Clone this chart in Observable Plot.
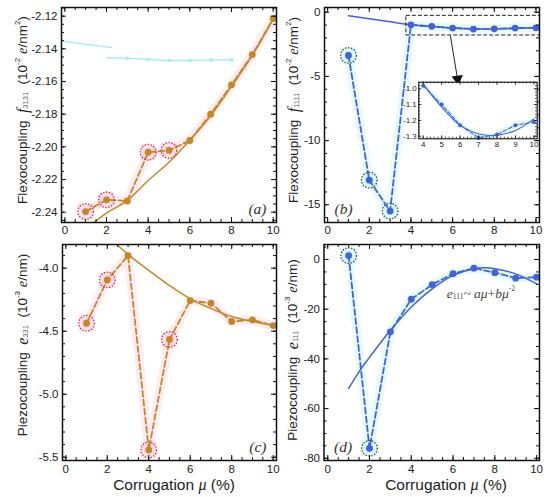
<!DOCTYPE html>
<html><head><meta charset="utf-8">
<script src="https://cdn.jsdelivr.net/npm/d3@7"></script>
<script src="https://cdn.jsdelivr.net/npm/@observablehq/plot@0.6"></script>
<style>
body{margin:0;background:#fff;}
#fig{position:relative;width:550px;height:497px;overflow:hidden;background:#fff;}
#fig svg{position:absolute;}
</style></head><body><div id="fig"></div>
<script>
// ---------- data ----------
const mu = [1, 2, 3, 4, 5, 6, 7, 8, 9, 10];

const f3131 = [-2.2396, -2.2324, -2.2331, -2.2033, -2.2022, -2.1961, -2.1800, -2.1620, -2.1435, -2.1216];
const f3131FitMu = [1.4, 2, 3, 4, 5, 6, 7, 8, 9, 10];
const f3131Fit = [-2.2463, -2.2405, -2.2328, -2.2206, -2.2094, -2.196, -2.181, -2.163, -2.144, -2.122];
const f3131Marked = [1, 2, 4, 5];
const ghostMuA = [-0.15, 1, 2.25];
const ghostA = [-2.1352, -2.1372, -2.1392];
const ghostMuB = [2.0, 3, 4, 5, 6, 7, 8];
const ghostB = [-2.1455, -2.1458, -2.1466, -2.1471, -2.1471, -2.1468, -2.1467];

const f1111 = [-3.37, -13.08, -15.49, -0.98, -1.10, -1.23, -1.31, -1.29, -1.23, -1.21];
const f1111FitMu = [1, 2, 3, 4, 5, 6, 7, 7.7, 8, 9, 10];
const f1111Fit = [-0.27, -0.50, -0.74, -0.97, -1.115, -1.23, -1.285, -1.297, -1.295, -1.264, -1.19];
const f1111Marked = [1, 2, 3];
const zoomBox = [{x1: 3.78, x2: 10.3, y1: -0.28, y2: -1.81}];
const zoomArrow = [{x1: 5.89, y1: -1.81, x2: 6.22, y2: -5.05}];
const arrowHead = [{x: 6.24, y: -5.2}];

const e331 = [-4.437, -4.093, -3.900, -5.442, -4.566, -4.257, -4.278, -4.423, -4.410, -4.455];
const e331FitMu = [2.45, 3, 4, 5, 6, 7, 8, 9, 10];
const e331Fit = [-3.812, -3.89, -4.018, -4.138, -4.243, -4.32, -4.384, -4.423, -4.455];
const e331Marked = [1, 2, 4, 5];

const e111 = [1.6, -76, -29.1, -16, -10.1, -5.7, -3.5, -5.3, -7.5, -7.1];
const e111FitMu = [1, 1.6, 2, 3, 4, 5, 6, 7, 7.5, 8, 9, 10];
const e111Fit = [-51.9, -43.9, -39.4, -28.5, -19.1, -11.8, -6.4, -3.7, -3.3, -3.7, -5.8, -9.8];
const e111Marked = [1, 2];
const formulaPos = {x: 5.72, y: -13.7};

const xLabels = [0, 2, 4, 6, 8, 10];
const yLabelsA = [-2.24, -2.22, -2.20, -2.18, -2.16, -2.14, -2.12];
const yLabelsB = [-15, -10, -5, 0];
const yLabelsC = [-5.5, -5.0, -4.5, -4.0];
const yLabelsD = [-80, -60, -40, -20, 0];
const insetXLabels = [4, 5, 6, 7, 8, 9, 10];
const insetYLabels = [-1.3, -1.2, -1.1, -1.0];

const ORANGE = "#c8871f", BLUE = "#3e63e0", PINK = "#f7b8da", CYAN = "#a9eef7";
const SANS = "Arial, 'Liberation Sans', sans-serif", SERIF = "'Liberation Serif', 'DejaVu Serif', serif";

const steps = (a, b, s) => d3.range(Math.round((b - a) / s) + 1).map(i => +(a + i * s).toFixed(6));

function tickMarks(xMaj, xMin, yMaj, yMin, iw, ih, lMaj, lMin, sw) {
  const st = {stroke: "#111", strokeWidth: sw};
  return [
    Plot.tickX(xMin, {x: d => d, insetTop: ih - lMin, ...st}),
    Plot.tickX(xMin, {x: d => d, insetBottom: ih - lMin, ...st}),
    Plot.tickX(xMaj, {x: d => d, insetTop: ih - lMaj, ...st}),
    Plot.tickX(xMaj, {x: d => d, insetBottom: ih - lMaj, ...st}),
    Plot.tickY(yMin, {y: d => d, insetRight: iw - lMin, ...st}),
    Plot.tickY(yMin, {y: d => d, insetLeft: iw - lMin, ...st}),
    Plot.tickY(yMaj, {y: d => d, insetRight: iw - lMaj, ...st}),
    Plot.tickY(yMaj, {y: d => d, insetLeft: iw - lMaj, ...st})
  ];
}

function seriesMarks(ys, fx, fy, marked, color, halo, ring) {
  const pts = mu.map((x, i) => ({x, y: ys[i]}));
  const fit = fx.map((x, i) => ({x, y: fy[i]}));
  const m = pts.filter(d => marked.includes(d.x));
  return [
    Plot.line(pts, {x: "x", y: "y", stroke: halo, strokeWidth: 9, strokeOpacity: 0.28}),
    Plot.dot(m, {x: "x", y: "y", r: 9, fill: halo, fillOpacity: 0.4, symbol: "square"}),
    Plot.line(fit, {x: "x", y: "y", stroke: color, strokeWidth: 1.5, curve: "catmull-rom", clip: true}),
    Plot.line(pts, {x: "x", y: "y", stroke: color, strokeWidth: 1.8, strokeDasharray: "6,3"}),
    Plot.dot(pts, {x: "x", y: "y", r: 3.4, fill: color}),
    Plot.dot(m, {x: "x", y: "y", r: 7.8, stroke: ring, strokeWidth: 1.3, strokeDasharray: "1.4,1.6"})
  ];
}

function panel(c) {
  const iw = c.width - c.ml - c.mr, ih = c.height - c.mt - c.mb;
  const plot = Plot.plot({
    width: c.width, height: c.height,
    marginLeft: c.ml, marginRight: c.mr, marginTop: c.mt, marginBottom: c.mb,
    x: {domain: c.xDomain}, y: {domain: c.yDomain},
    style: {background: "transparent", fontFamily: SANS, fontSize: c.fontSize || "11.5px", color: "#222", overflow: "visible"},
    marks: [
      ...(c.under || []),
      ...c.marks,
      ...tickMarks(c.xMaj, c.xMin, c.yMaj, c.yMin, iw, ih, c.lMaj || 5, c.lMin || 3, c.tsw || 1),
      Plot.frame({stroke: "#111", strokeWidth: c.fsw || 1.5}),
      Plot.axisX(c.xMaj, {anchor: "bottom", tickSize: 0, tickPadding: c.xPad ?? 4, tickFormat: d => String(d), label: null}),
      Plot.axisY(c.yMaj, {anchor: "left", tickSize: 0, tickPadding: c.yPad ?? 4, tickFormat: c.yFormat, label: null})
    ]
  });
  plot.style.position = "absolute";
  plot.style.left = c.left + "px";
  plot.style.top = c.top + "px";
  document.getElementById("fig").appendChild(plot);
  return plot;
}

function richText(svg, attrs, parts) {
  const t = d3.select(svg).append("text").attr("fill", "#222").attr("font-family", SANS)
    .style("white-space", "pre");
  for (const k in attrs) t.attr(k, attrs[k]);
  for (const p of parts) {
    const s = t.append("tspan").text(p.t);
    if (p.it) s.attr("font-family", SERIF).attr("font-style", "italic");
    if (p.size) s.attr("font-size", p.size);
    if (p.dy) s.attr("dy", p.dy);
    if (p.fill) s.attr("fill", p.fill);
  }
  return t;
}

function yTitle(svg, x, y, parts) {
  richText(svg, {transform: `translate(${x},${y}) rotate(-90)`, "text-anchor": "middle",
    "dominant-baseline": "central", "font-size": 13.5}, parts);
}
function xTitle(svg, x, y) {
  richText(svg, {x, y, "text-anchor": "middle", "font-size": 15.5},
    [{t: "Corrugation "}, {t: "μ", it: 1, size: 16}, {t: " (%)"}]);
}
const panelLabel = (s, anchor, dx) => Plot.text([s], {frameAnchor: anchor, dx, dy: -9, fontFamily: SERIF, fontStyle: "italic", fontSize: 15.5, fill: "#333", textAnchor: anchor.endsWith("right") ? "end" : "start"});

const xMin = steps(0, 10, 0.5);

// ---------- (a) ----------
const pa = panel({
  left: 0, top: 0, width: 280, height: 240, ml: 61, mr: 4, mt: 7, mb: 18,
  xDomain: [-0.16, 10.16], yDomain: [-2.2463, -2.1147],
  xMaj: xLabels, xMin, yMaj: yLabelsA, yMin: steps(-2.245, -2.115, 0.005),
  yFormat: d => d.toFixed(2), xPad: 3,
  under: [
    Plot.line(ghostMuA.map((x, i) => ({x, y: ghostA[i]})), {x: "x", y: "y", stroke: CYAN, strokeWidth: 1.5, clip: true}),
    Plot.line(ghostMuB.map((x, i) => ({x, y: ghostB[i]})), {x: "x", y: "y", stroke: CYAN, strokeWidth: 1.5}),
    Plot.dot(ghostMuB.slice(1).map((x, i) => ({x, y: ghostB[i + 1]})), {x: "x", y: "y", r: 2, fill: CYAN})
  ],
  marks: [...seriesMarks(f3131, f3131FitMu, f3131Fit, f3131Marked, ORANGE, PINK, "#d42a3a"), panelLabel("(a)", "bottom-right", -10)]
});
yTitle(pa, 22, 110, [
  {t: "Flexocoupling  "}, {t: "f", it: 1, size: 16}, {t: "3131", size: 7.5, dy: 3, fill: "#666"},
  {t: "  (10", dy: -3}, {t: "-2", size: 8, dy: -5}, {t: " ", dy: 5}, {t: "e", it: 1, size: 14.5},
  {t: "/nm"}, {t: "2", size: 8, dy: -5}, {t: ")", dy: 5}
]);

// ---------- (b) ----------
const pb = panel({
  left: 280, top: 0, width: 270, height: 240, ml: 44, mr: 11, mt: 7, mb: 18,
  xDomain: [-0.15, 10.17], yDomain: [-16.38, 0.37],
  xMaj: xLabels, xMin, yMaj: yLabelsB, yMin: steps(-16, 0, 1),
  yFormat: d => String(d), xPad: 3,
  marks: [
    ...seriesMarks(f1111, f1111FitMu, f1111Fit, f1111Marked, BLUE, CYAN, "#3a4a10"),
    Plot.rect(zoomBox, {x1: "x1", x2: "x2", y1: "y1", y2: "y2", fill: "none", stroke: "#222", strokeWidth: 1, strokeDasharray: "4,2", clip: true}),
    Plot.link(zoomArrow, {x1: "x1", y1: "y1", x2: "x2", y2: "y2", stroke: "#222", strokeWidth: 1}),
    Plot.dot(arrowHead, {x: "x", y: "y", symbol: "triangle", r: 4.2, fill: "#111", rotate: 172}),
    panelLabel("(b)", "bottom-left", 10)
  ]
});
yTitle(pb, 13, 110, [
  {t: "Flexocoupling  "}, {t: "f", it: 1, size: 16}, {t: "1111", size: 7.5, dy: 3, fill: "#666"},
  {t: "  (10", dy: -3}, {t: "-2", size: 8, dy: -5}, {t: " ", dy: 5}, {t: "e", it: 1, size: 14.5},
  {t: "/nm"}, {t: "2", size: 8, dy: -5}, {t: ")", dy: 5}
]);

// ---------- inset ----------
const insetPts = mu.map((x, i) => ({x, y: f1111[i]})).filter(d => d.x >= 4);
const insetFit = f1111FitMu.map((x, i) => ({x, y: f1111Fit[i]})).filter(d => d.x >= 4);
const pin = panel({
  left: 398, top: 76, width: 142, height: 78, ml: 20.3, mr: 3.3, mt: 5.7, mb: 15.7,
  xDomain: [3.76, 10.18], yDomain: [-1.3165, -0.958],
  xMaj: insetXLabels, xMin: steps(4, 10, 0.2), yMaj: insetYLabels, yMin: steps(-1.3, -0.96, 0.02),
  yFormat: d => d.toFixed(1), fontSize: "8px", lMaj: 3, lMin: 1.6, tsw: 0.8, fsw: 1.1, xPad: 3, yPad: 2,
  under: [Plot.frame({fill: "white", stroke: "none"})],
  marks: [
    Plot.line(insetPts, {x: "x", y: "y", stroke: CYAN, strokeWidth: 6, strokeOpacity: 0.35}),
    Plot.line(insetFit, {x: "x", y: "y", stroke: BLUE, strokeWidth: 1.1, curve: "catmull-rom", clip: true}),
    Plot.line(insetPts, {x: "x", y: "y", stroke: BLUE, strokeWidth: 1.1, strokeDasharray: "4,2"}),
    Plot.dot(insetPts, {x: "x", y: "y", r: 2, fill: BLUE})
  ]
});

// ---------- (c) ----------
const pc = panel({
  left: 0, top: 240, width: 280, height: 257, ml: 62, mr: 4, mt: 4, mb: 37,
  xDomain: [-0.16, 10.16], yDomain: [-5.526, -3.812],
  xMaj: xLabels, xMin, yMaj: yLabelsC, yMin: steps(-5.5, -3.9, 0.1),
  yFormat: d => d.toFixed(1),
  marks: [...seriesMarks(e331, e331FitMu, e331Fit, e331Marked, ORANGE, PINK, "#d42a3a"), panelLabel("(c)", "bottom-right", -10)]
});
yTitle(pc, 22, 105, [
  {t: "Piezocoupling  "}, {t: "e", it: 1, size: 16}, {t: "331", size: 7.5, dy: 3, fill: "#666"},
  {t: "  (10", dy: -3}, {t: "-3", size: 8, dy: -5}, {t: " ", dy: 5}, {t: "e", it: 1, size: 14.5},
  {t: "/nm)"}
]);
xTitle(pc, 174, 250);

// ---------- (d) ----------
const pd = panel({
  left: 280, top: 240, width: 270, height: 257, ml: 43.5, mr: 11, mt: 4, mb: 37,
  xDomain: [-0.18, 10.14], yDomain: [-80.9, 6.04],
  xMaj: xLabels, xMin, yMaj: yLabelsD, yMin: steps(-80, 5, 5),
  yFormat: d => String(d),
  marks: [...seriesMarks(e111, e111FitMu, e111Fit, e111Marked, BLUE, CYAN, "#3a4a10"), panelLabel("(d)", "bottom-left", 10)]
});
yTitle(pd, 12, 110, [
  {t: "Piezocoupling  "}, {t: "e", it: 1, size: 16}, {t: "111", size: 7.5, dy: 3, fill: "#666"},
  {t: "  (10", dy: -3}, {t: "-3", size: 8, dy: -5}, {t: " ", dy: 5}, {t: "e", it: 1, size: 14.5},
  {t: "/nm)"}
]);
xTitle(pd, 166, 250);
richText(pd, {x: pd.scale("x").apply(formulaPos.x), y: pd.scale("y").apply(formulaPos.y), "font-size": 13.5,
  "font-family": SERIF, fill: "#444", "text-anchor": "start", "dominant-baseline": "central"}, [
  {t: "e", it: 1}, {t: "111", size: 7.5, dy: 3}, {t: "~ ", dy: -3}, {t: "aμ", it: 1}, {t: "+"}, {t: "bμ", it: 1},
  {t: "-2", size: 7.5, dy: -5}
]);
</script></body></html>
